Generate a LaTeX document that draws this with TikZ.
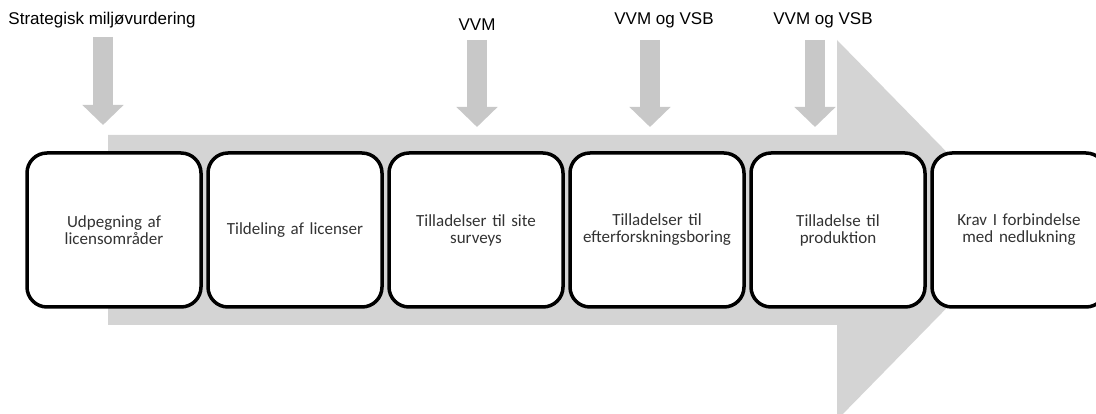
\documentclass[tikz,border=0pt]{standalone}
\usepackage{fontspec}
\setmainfont{Liberation Sans}
\newfontfamily\boxfont{Carlito}
\usepackage{tikz}
\usetikzlibrary{arrows.meta}
\usetikzlibrary{positioning}
\definecolor{bandgray}{HTML}{D4D4D4}
\definecolor{pointgray}{HTML}{C8C8C8}
\definecolor{boxtext}{HTML}{333333}
\tikzset{
  stagebox/.style={draw, line width=3.5pt, rounded corners=20pt, fill=white,
    minimum width=174pt, minimum height=154pt, text width=165pt, align=center,
    inner sep=0pt, text=boxtext, font=\boxfont\fontsize{17}{17}\selectfont},
  toplabel/.style={font=\fontsize{17}{19}\selectfont, inner sep=0pt},
  downarrow/.style={line width=20pt, draw=pointgray,
    -{Triangle[length=20pt, width=40pt]}}
}

\begin{document}
\begin{tikzpicture}[x=1pt, y=-1pt]
  \useasboundingbox (0,0) rectangle (1096,414);
  % big arrow behind the stages
  \fill[bandgray] (108,135) -- (837,135) -- (837,40) -- (1023,230)
    -- (837,420) -- (837,325) -- (108,325) -- cycle;

  % stages
  \node[stagebox] (udpegning)  at (114,230) {Udpegning af\\licensområder};
  \node[stagebox] (tildeling)  at (295,230) {Tildeling af licenser};
  \node[stagebox] (survey)     at (476,230) {Tilladelser til site\\surveys};
  \node[stagebox] (boring)     at (657,230) {Tilladelser til\\efterforskningsboring};
  \node[stagebox] (produktion) at (838,230) {Tilladelse til\\produktion};
  \node[stagebox] (nedlukning) at (1019,230) {Krav I forbindelse\\med nedlukning};

  % assessments
  \node[toplabel] (sma)  at (102,20) {Strategisk miljøvurdering};
  \node[toplabel] (vvm)  at (477,25) {VVM};
  \node[toplabel] (vsba) at (664,20) {VVM og VSB};
  \node[toplabel] (vsbb) at (823,20) {VVM og VSB};

  \coordinate (sma-top)  at (103,37);  \coordinate (sma-tip)  at (103,125);
  \coordinate (vvm-top)  at (477,40);  \coordinate (vvm-tip)  at (477,127);
  \coordinate (vsba-top) at (650,40);  \coordinate (vsba-tip) at (650,127);
  \coordinate (vsbb-top) at (815,40);  \coordinate (vsbb-tip) at (815,127);

  \draw[downarrow] (sma-top)  -- (sma-tip);
  \draw[downarrow] (vvm-top)  -- (vvm-tip);
  \draw[downarrow] (vsba-top) -- (vsba-tip);
  \draw[downarrow] (vsbb-top) -- (vsbb-tip);
\end{tikzpicture}
\end{document}
